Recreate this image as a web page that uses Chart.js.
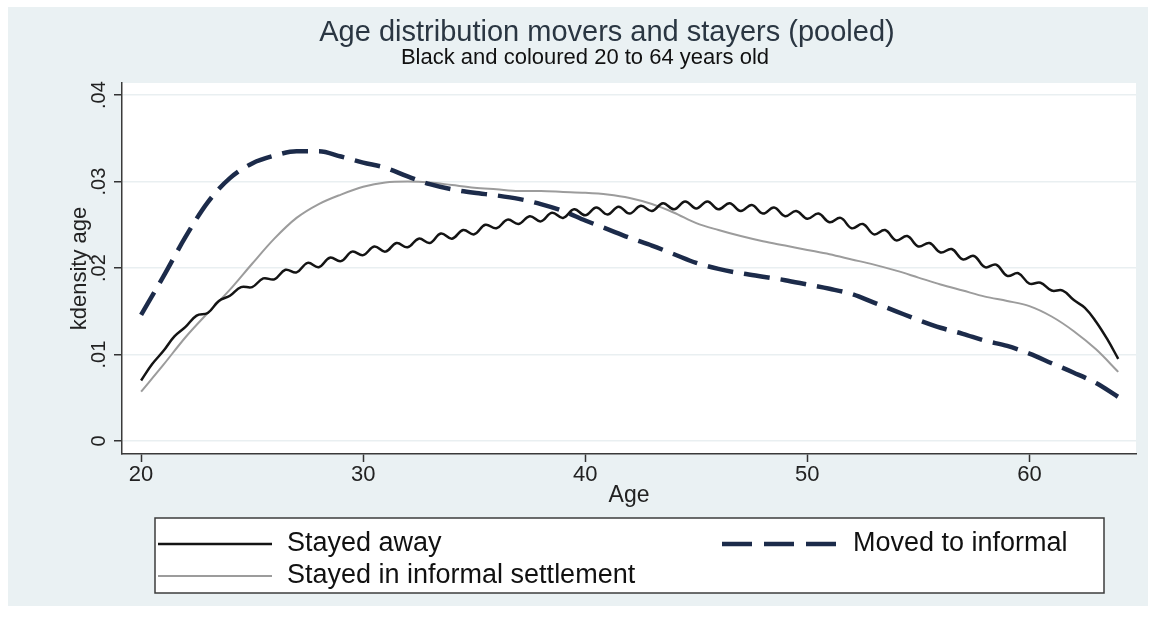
<!DOCTYPE html>
<html>
<head>
<meta charset="utf-8">
<script src="https://cdn.jsdelivr.net/npm/chart.js@4.4.1/dist/chart.umd.min.js"></script>
<style>
  html, body { margin: 0; padding: 0; background: #ffffff; }
  #wrap { width: 1155px; height: 617px; }
</style>
</head>
<body>
<div id="wrap"><canvas id="c" width="1155" height="617"></canvas></div>
<script>
// Kernel density estimates of age by group (ages 20 to 64)
const ageFine = [20, 20.5, 21, 21.5, 22, 22.5, 23, 23.5, 24, 24.5, 25, 25.5, 26, 26.5, 27, 27.5, 28, 28.5, 29, 29.5,
  30, 30.5, 31, 31.5, 32, 32.5, 33, 33.5, 34, 34.5, 35, 35.5, 36, 36.5, 37, 37.5, 38, 38.5, 39, 39.5,
  40, 40.5, 41, 41.5, 42, 42.5, 43, 43.5, 44, 44.5, 45, 45.5, 46, 46.5, 47, 47.5, 48, 48.5, 49, 49.5,
  50, 50.5, 51, 51.5, 52, 52.5, 53, 53.5, 54, 54.5, 55, 55.5, 56, 56.5, 57, 57.5, 58, 58.5, 59, 59.5,
  60, 60.5, 61, 61.5, 62, 62.5, 63, 63.5, 64];

const ageGrid = [20, 21, 22, 23, 24, 25, 26, 27, 28, 29, 30, 31, 32, 33, 34, 35, 36, 37, 38, 39,
  40, 41, 42, 43, 44, 45, 46, 47, 48, 49, 50, 51, 52, 53, 54, 55, 56, 57, 58, 59, 60, 61, 62, 63, 64];

const stayedAway = [0.0070, 0.0089, 0.0104, 0.0121, 0.0132, 0.0145, 0.0148, 0.0162, 0.0168, 0.0178,
  0.0178, 0.0188, 0.0187, 0.0198, 0.0195, 0.0206, 0.0201, 0.0212, 0.0208, 0.0219,
  0.0215, 0.0225, 0.0219, 0.0229, 0.0224, 0.0234, 0.0229, 0.0240, 0.0234, 0.0244,
  0.0239, 0.0250, 0.0246, 0.0256, 0.0251, 0.0260, 0.0254, 0.0264, 0.0258, 0.0268,
  0.0261, 0.0270, 0.0262, 0.0271, 0.0263, 0.0272, 0.0266, 0.0275, 0.0268, 0.0277,
  0.0269, 0.0277, 0.0268, 0.0275, 0.0266, 0.0273, 0.0263, 0.0270, 0.0260, 0.0266,
  0.0257, 0.0263, 0.0253, 0.0258, 0.0246, 0.0251, 0.0239, 0.0244, 0.0232, 0.0237,
  0.0225, 0.0229, 0.0218, 0.0222, 0.0210, 0.0214, 0.0201, 0.0204, 0.0191, 0.0194,
  0.0182, 0.0183, 0.0174, 0.0174, 0.0163, 0.0154, 0.0138, 0.0118, 0.0095];

const movedToInformal = [0.0146, 0.0190, 0.0236, 0.0276, 0.0304, 0.0321, 0.0330, 0.0335, 0.0335, 0.0329,
  0.0322, 0.0316, 0.0306, 0.0297, 0.0291, 0.0287, 0.0284, 0.0280, 0.0274, 0.0266,
  0.0255, 0.0245, 0.0235, 0.0226, 0.0216, 0.0206, 0.0199, 0.0194, 0.0190, 0.0186,
  0.0181, 0.0176, 0.0170, 0.0160, 0.0150, 0.0140, 0.0131, 0.0124, 0.0116, 0.0110,
  0.0101, 0.0090, 0.0079, 0.0067, 0.0051];

const stayedInformal = [0.0057, 0.0088, 0.0120, 0.0148, 0.0175, 0.0205, 0.0234, 0.0258, 0.0274, 0.0285,
  0.0294, 0.0299, 0.0300, 0.0299, 0.0296, 0.0293, 0.0291, 0.0289, 0.0289, 0.0288,
  0.0287, 0.0285, 0.0281, 0.0274, 0.0264, 0.0252, 0.0244, 0.0237, 0.0231, 0.0226,
  0.0221, 0.0216, 0.0210, 0.0204, 0.0197, 0.0189, 0.0181, 0.0174, 0.0167, 0.0162,
  0.0156, 0.0144, 0.0127, 0.0106, 0.0080];

const xTicks = [20, 30, 40, 50, 60];
const yTicks = [0, 0.01, 0.02, 0.03, 0.04];
const seriesLabels = ['Stayed away', 'Moved to informal', 'Stayed in informal settlement'];
const titleText = 'Age distribution movers and stayers (pooled)';
const subtitleText = 'Black and coloured 20 to 64 years old';

const FONT = "'Liberation Sans', Arial, Helvetica, sans-serif";
const toPoints = (xs, ys) => xs.map((x, i) => ({ x: x, y: ys[i] }));

// Stata-like backdrop: pale blue-grey frame with a white plot region
const backdrop = {
  id: 'backdrop',
  beforeDraw(chart) {
    const { ctx, chartArea: a } = chart;
    ctx.save();
    ctx.fillStyle = '#ffffff';
    ctx.fillRect(0, 0, chart.width, chart.height);
    ctx.fillStyle = '#eaf1f3';
    ctx.fillRect(8, 7, 1140, 599);
    ctx.fillStyle = '#ffffff';
    ctx.fillRect(a.left, a.top, a.right - a.left, a.bottom - a.top);
    ctx.restore();
  }
};

// Title and subtitle above the plot region
const headings = {
  id: 'headings',
  afterDraw(chart) {
    const ctx = chart.ctx;
    ctx.save();
    ctx.textAlign = 'center';
    ctx.textBaseline = 'middle';
    ctx.fillStyle = '#2a3642';
    ctx.font = '29px ' + FONT;
    ctx.fillText(titleText, 607, 33);
    ctx.fillStyle = '#111111';
    ctx.font = '22px ' + FONT;
    ctx.fillText(subtitleText, 585, 58);
    ctx.restore();
  }
};

// Two-column boxed legend below the axis title
const gridLegend = {
  id: 'gridLegend',
  afterDraw(chart) {
    const ctx = chart.ctx;
    const box = { x: 155, y: 518, w: 949, h: 75 };
    const cols = [{ line: 158, text: 287 }, { line: 722, text: 853 }];
    const rows = [544, 576];
    const place = [{ ds: 0, c: 0, r: 0 }, { ds: 1, c: 1, r: 0 }, { ds: 2, c: 0, r: 1 }];
    ctx.save();
    ctx.fillStyle = '#ffffff';
    ctx.fillRect(box.x, box.y, box.w, box.h);
    ctx.strokeStyle = '#3c3c3c';
    ctx.lineWidth = 1.5;
    ctx.strokeRect(box.x, box.y, box.w, box.h);
    ctx.font = '27px ' + FONT;
    ctx.textBaseline = 'middle';
    ctx.textAlign = 'left';
    place.forEach(p => {
      const ds = chart.data.datasets[p.ds];
      const y = rows[p.r];
      const col = cols[p.c];
      ctx.beginPath();
      ctx.strokeStyle = ds.borderColor;
      ctx.lineWidth = ds.borderWidth;
      // three whole dashes across the key sample
      ctx.setLineDash(ds.borderDash ? [30, 12] : []);
      ctx.moveTo(col.line, y);
      ctx.lineTo(col.line + 114, y);
      ctx.stroke();
      ctx.setLineDash([]);
      ctx.fillStyle = '#111111';
      ctx.fillText(ds.label, col.text, y);
    });
    ctx.restore();
  }
};

new Chart(document.getElementById('c'), {
  type: 'line',
  data: {
    datasets: [
      {
        label: seriesLabels[0],
        data: toPoints(ageFine, stayedAway),
        borderColor: '#141414',
        borderWidth: 2.5,
        pointRadius: 0,
        tension: 0.4,
        fill: false
      },
      {
        label: seriesLabels[1],
        data: toPoints(ageGrid, movedToInformal),
        borderColor: '#1c2b4a',
        borderWidth: 4.5,
        borderDash: [26, 11],
        pointRadius: 0,
        cubicInterpolationMode: 'monotone',
        fill: false
      },
      {
        label: seriesLabels[2],
        data: toPoints(ageGrid, stayedInformal),
        borderColor: '#9c9c9c',
        borderWidth: 2,
        pointRadius: 0,
        cubicInterpolationMode: 'monotone',
        fill: false
      }
    ]
  },
  options: {
    responsive: false,
    animation: false,
    devicePixelRatio: 1,
    layout: { padding: { left: 8, right: 19, top: 83, bottom: 105 } },
    plugins: {
      legend: { display: false },
      tooltip: { enabled: false },
      title: { display: false },
      subtitle: { display: false }
    },
    scales: {
      x: {
        type: 'linear',
        min: 19.14,
        max: 64.8,
        afterBuildTicks: s => { s.ticks = xTicks.map(v => ({ value: v })); },
        afterFit: s => { s.height = 58; },
        grid: {
          drawOnChartArea: false,
          drawTicks: true,
          tickLength: 8,
          tickColor: '#333333',
          tickWidth: 1.5
        },
        border: { display: true, color: '#3a3a3a', width: 1.5 },
        ticks: {
          color: '#222222',
          font: { family: FONT, size: 22 },
          padding: 0,
          maxRotation: 0,
          autoSkip: false
        },
        title: {
          display: true,
          text: 'Age',
          color: '#222222',
          font: { family: FONT, size: 23, lineHeight: 1 },
          padding: { top: 4.5, bottom: 4.5 }
        }
      },
      y: {
        type: 'linear',
        min: -0.0015,
        max: 0.0414,
        afterBuildTicks: s => { s.ticks = yTicks.map(v => ({ value: v })); },
        afterFit: s => { s.width = 114; },
        grid: {
          color: '#e9eff1',
          lineWidth: 1.5,
          drawTicks: true,
          tickLength: 8,
          tickColor: '#333333',
          tickWidth: 1.5
        },
        border: { display: true, color: '#3a3a3a', width: 1.5 },
        ticks: {
          color: '#222222',
          font: { family: FONT, size: 20 },
          minRotation: 90,
          maxRotation: 90,
          crossAlign: 'center',
          padding: 1,
          autoSkip: false,
          callback: v => (v === 0 ? '0' : Number(v).toFixed(2).replace(/^0/, ''))
        },
        title: {
          display: true,
          text: 'kdensity age',
          color: '#222222',
          font: { family: FONT, size: 22, lineHeight: 1.2 },
          padding: { top: 59, bottom: 59 }
        }
      }
    }
  },
  plugins: [backdrop, headings, gridLegend]
});
</script>
</body>
</html>
